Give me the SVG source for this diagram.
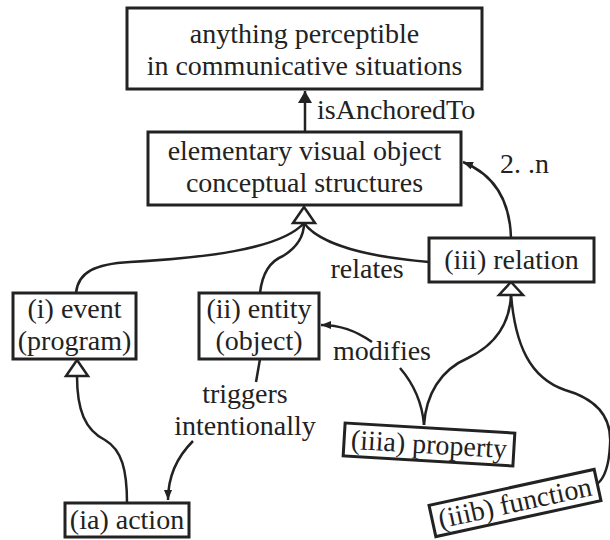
<svg xmlns="http://www.w3.org/2000/svg" width="610" height="540" viewBox="0 0 610 540">
<style>
.box{fill:#fff;stroke:#222;stroke-width:3}
.t{font-family:"Liberation Serif",serif;font-size:28px;fill:#222;text-anchor:middle}
.l{font-family:"Liberation Serif",serif;font-size:28px;fill:#222}
.c{fill:none;stroke:#222;stroke-width:2.5}
.tri{fill:#fff;stroke:#222;stroke-width:2.5;stroke-linejoin:miter}
</style>
<defs>
<marker id="big" viewBox="0 0 12 14" refX="12" refY="7" markerWidth="12" markerHeight="14" markerUnits="userSpaceOnUse" orient="auto"><path d="M0,0 L12,7 L0,14 Z" fill="#222"/></marker>
<marker id="sm" viewBox="0 0 10 8" refX="10" refY="4" markerWidth="10" markerHeight="8" markerUnits="userSpaceOnUse" orient="auto"><path d="M0,0 L10,4 L0,8 Z" fill="#222"/></marker>
</defs>
<g id="connectors">
<path class="c" d="M305,132 L305,91" marker-end="url(#big)"/>
<path class="c" d="M76,293 C78,272 95,264 130,262 C200,258 280,250 304,223"/>
<path class="c" d="M260,293 C262,275 268,262 283,256 C296,248 304,238 304,223"/>
<path class="c" d="M429,262 C370,257 320,245 304,223"/>
<polygon class="tri" points="304,207 293,223 315,223"/>
<path class="c" d="M511,238 C510,200 495,175 463,162" marker-end="url(#sm)"/>
<path class="c" d="M127,503 C127,470 122,450 105,440 C85,430 77,410 77,376"/>
<polygon class="tri" points="77,360 66,376 88,376"/>
<path class="c" d="M260,359 L256,382"/>
<path class="c" d="M193,441 C177,457 168,478 168,500" marker-end="url(#sm)"/>
<path class="c" d="M372,342 C355,330 340,325 321,325" marker-end="url(#sm)"/>
<path class="c" d="M400,368 C412,382 422,400 424,425"/>
<path class="c" d="M424,425 C426,395 440,370 468,358 C495,345 510,325 511,294"/>
<path class="c" d="M511,294 C515,345 530,378 565,390 C600,400 612,420 610,445 C609,465 605,478 597,484"/>
<polygon class="tri" points="511,282 499,295 523,295"/>
<text class="l" x="317" y="119">isAnchoredTo</text>
<text class="l" x="500" y="173">2. .n</text>
<text class="t" x="367" y="278">relates</text>
<text class="t" x="245" y="403">triggers</text>
<text class="t" x="245" y="435">intentionally</text>
<text class="l" x="333" y="360">modifies</text>
</g>
<g id="anything">
<rect class="box" x="127" y="8" width="355" height="81"/>
<text class="t" x="304.5" y="43">anything perceptible</text>
<text class="t" x="304.5" y="75">in communicative situations</text>
</g>
<g id="elementary">
<rect class="box" x="148" y="132" width="313" height="73"/>
<text class="t" x="304.5" y="160">elementary visual object</text>
<text class="t" x="304.5" y="192">conceptual structures</text>
</g>
<g id="relation">
<rect class="box" x="429" y="238" width="165" height="44"/>
<text class="t" x="511.5" y="269">(iii) relation</text>
</g>
<g id="event">
<rect class="box" x="13" y="293" width="123" height="66"/>
<text class="t" x="74.5" y="318">(i) event</text>
<text class="t" x="74.5" y="350">(program)</text>
</g>
<g id="entity">
<rect class="box" x="199" y="293" width="120" height="66"/>
<text class="t" x="259" y="318">(ii) entity</text>
<text class="t" x="259" y="350">(object)</text>
</g>
<g id="action">
<rect class="box" x="65" y="503" width="124" height="34"/>
<text class="t" x="127" y="529">(ia) action</text>
</g>
<g id="property" transform="translate(429,444.5) rotate(3.4)">
<rect class="box" x="-85" y="-16.5" width="170" height="33"/>
<text class="t" x="0" y="9">(iiia) property</text>
</g>
<g id="function" transform="translate(515,503) rotate(-12.3)">
<rect class="box" x="-84.5" y="-16" width="169" height="32"/>
<text class="t" x="0" y="9">(iiib) function</text>
</g>
</svg>
